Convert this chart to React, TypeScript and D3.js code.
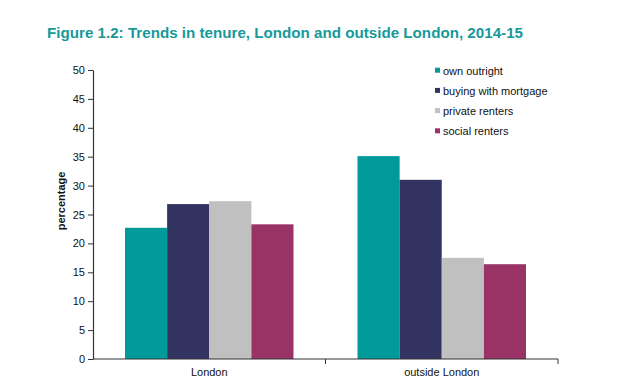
import * as d3 from 'd3';
import React, { useEffect, useRef } from 'react';

const categories = ['London', 'outside London'];
const series = ['own outright', 'buying with mortgage', 'private renters', 'social renters'];
const londonValues = [22.7, 26.8, 27.3, 23.3];
const outsideValues = [35.1, 31.0, 17.5, 16.4];
const yTicks = [0, 5, 10, 15, 20, 25, 30, 35, 40, 45, 50];
const colors = ['#009a9a', '#333362', '#c0c0c0', '#993366'];

const values = [londonValues, outsideValues];

export default function App() {
  const ref = useRef<SVGSVGElement>(null);

  useEffect(() => {
    const svg = d3.select(ref.current);
    svg.selectAll('*').remove();

    const font = 'Liberation Sans, Arial, sans-serif';
    const left = 93, right = 558, top = 70, bottom = 359;

    const x0 = d3.scaleBand().domain(categories).range([left, right]);
    const x1 = d3.scaleBand().domain(series).range([32, x0.bandwidth() - 32]);
    const y = d3.scaleLinear().domain([0, 50]).range([bottom, top]);

    // title
    svg.append('text')
      .attr('x', 47)
      .attr('y', 37.5)
      .attr('fill', '#17999a')
      .style('font-family', 'Liberation Sans, Arial, sans-serif')
      .style('font-weight', 'bold')
      .style('font-size', '15px')
      .attr('textLength', 476)
      .attr('lengthAdjust', 'spacingAndGlyphs')
      .text('Figure 1.2: Trends in tenure, London and outside London, 2014-15');

    // bars
    const groups = svg.append('g')
      .selectAll('g')
      .data(categories)
      .enter()
      .append('g')
      .attr('transform', d => 'translate(' + x0(d) + ',0)');

    groups.selectAll('rect')
      .data((d, i) => series.map((s, j) => ({ s, v: values[i][j], j })))
      .enter()
      .append('rect')
      .attr('x', d => x1(d.s) as number)
      .attr('y', d => y(d.v))
      .attr('width', x1.bandwidth())
      .attr('height', d => bottom - y(d.v))
      .attr('fill', d => colors[d.j]);

    // y axis
    const yAxis = svg.append('g')
      .attr('transform', 'translate(' + left + ',0)')
      .call(d3.axisLeft(y).tickValues(yTicks).tickSize(5).tickPadding(3).tickSizeOuter(0));
    yAxis.select('.domain').attr('stroke', '#333').attr('stroke-width', 1.2);
    yAxis.selectAll('line').attr('stroke', '#333');
    yAxis.selectAll('text')
      .style('font-family', font)
      .style('font-size', '11px')
      .attr('fill', '#111');

    // x axis
    const xAxis = svg.append('g')
      .attr('transform', 'translate(0,' + bottom + ')');
    xAxis.append('line')
      .attr('x1', left).attr('x2', right)
      .attr('stroke', '#333').attr('stroke-width', 1.2);
    xAxis.selectAll('.tick')
      .data(categories)
      .enter()
      .append('line')
      .attr('x1', d => (x0(d) as number) + x0.bandwidth())
      .attr('x2', d => (x0(d) as number) + x0.bandwidth())
      .attr('y1', 0).attr('y2', 5)
      .attr('stroke', '#333');
    xAxis.selectAll('.label')
      .data(categories)
      .enter()
      .append('text')
      .attr('x', d => (x0(d) as number) + x0.bandwidth() / 2)
      .attr('y', 17)
      .attr('text-anchor', 'middle')
      .style('font-family', font)
      .style('font-size', '11px')
      .attr('fill', '#111')
      .text(d => d);

    // y axis title
    svg.append('text')
      .attr('transform', 'translate(65,201) rotate(-90)')
      .attr('text-anchor', 'middle')
      .style('font-family', font)
      .style('font-size', '11px')
      .style('font-weight', 'bold')
      .attr('fill', '#111')
      .text('percentage');

    // legend
    const legend = svg.append('g')
      .selectAll('g')
      .data(series)
      .enter()
      .append('g')
      .attr('transform', (d, i) => 'translate(435,' + (70.7 + i * 20.2) + ')');
    legend.append('rect')
      .attr('x', 0).attr('y', -3)
      .attr('width', 5).attr('height', 5)
      .attr('fill', (d, i) => colors[i]);
    legend.append('text')
      .attr('x', 8)
      .attr('y', 4)
      .style('font-family', font)
      .style('font-size', '11px')
      .attr('fill', '#111')
      .text(d => d);
  }, []);

  return (
    <svg ref={ref} width={620} height={387}
      style={{ position: 'absolute', left: 0, top: 0, background: '#fff' }} />
  );
}
